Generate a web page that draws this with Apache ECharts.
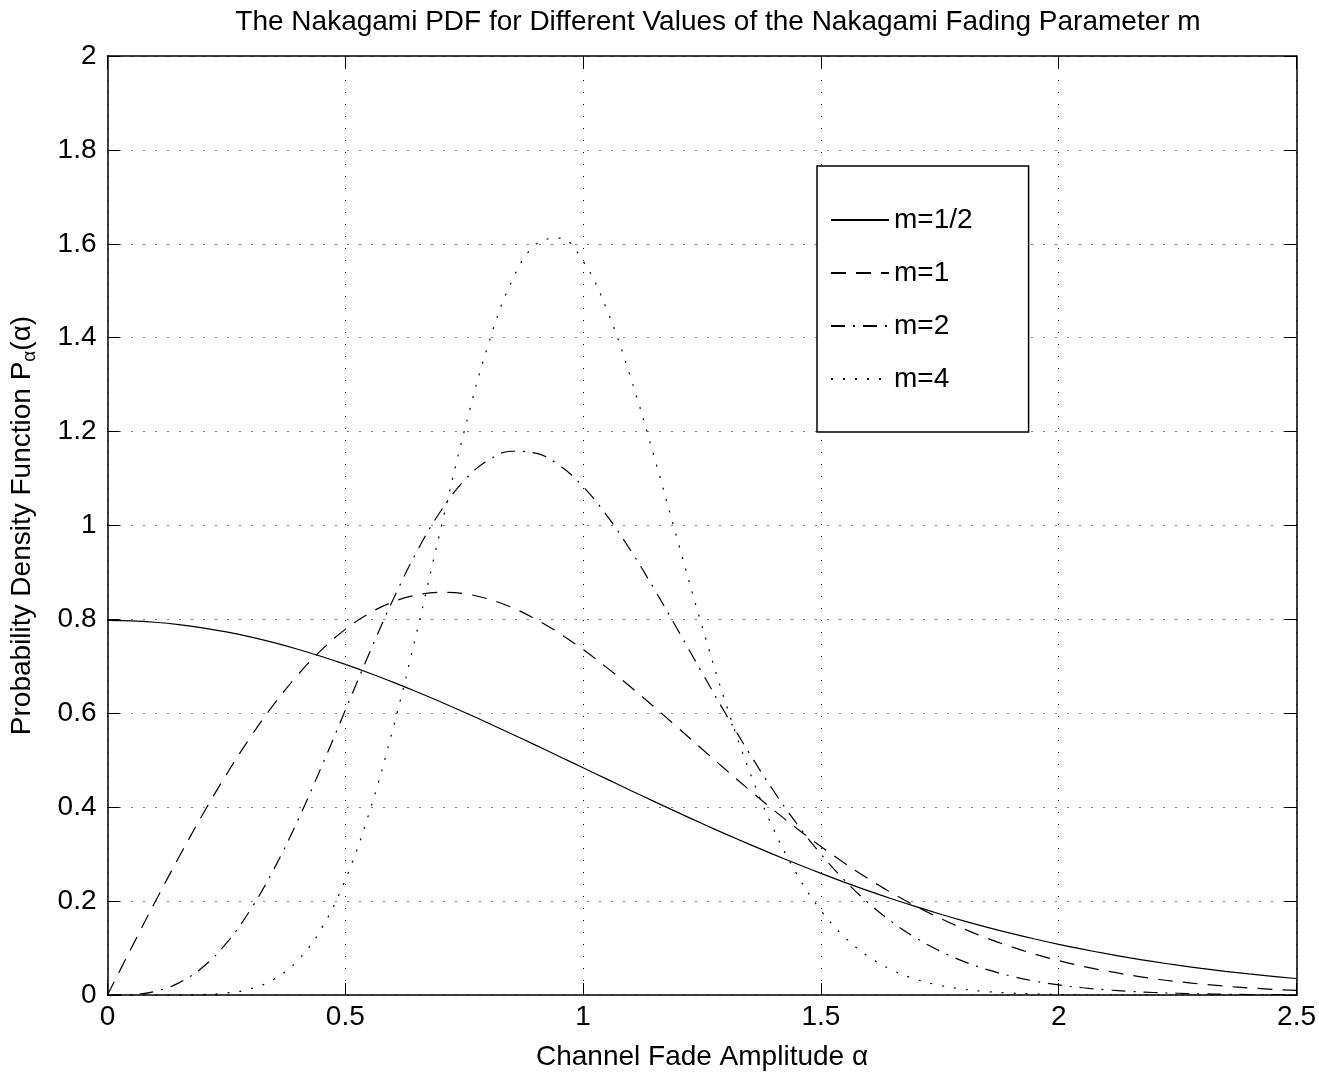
<!DOCTYPE html>
<html><head><meta charset="utf-8">
<script src="https://cdn.jsdelivr.net/npm/echarts@6/dist/echarts.min.js"></script>
<style>html,body{margin:0;padding:0;background:#fff}#c{width:1319px;height:1078px}</style>
</head><body><div id="c"></div>
<script>
// x positions (channel fade amplitude alpha)
const xs = [0,0.05,0.1,0.15,0.2,0.25,0.3,0.35,0.4,0.45,0.5,0.55,0.6,0.65,0.7,0.75,0.8,0.85,0.9,0.95,1,
  1.05,1.1,1.15,1.2,1.25,1.3,1.35,1.4,1.45,1.5,1.55,1.6,1.65,1.7,1.75,1.8,1.85,1.9,1.95,2,
  2.05,2.1,2.15,2.2,2.25,2.3,2.35,2.4,2.45,2.5];
// PDF values
const m05 = [0.7979,0.7969,0.7939,0.7890,0.7821,0.7733,0.7628,0.7505,0.7365,0.7210,0.7041,
  0.6859,0.6664,0.6459,0.6245,0.6023,0.5794,0.5560,0.5322,0.5081,0.4839,
  0.4598,0.4357,0.4119,0.3884,0.3653,0.3427,0.3208,0.2995,0.2789,0.2590,
  0.2400,0.2218,0.2045,0.1881,0.1726,0.1579,0.1441,0.1312,0.1192,0.1080,
  0.0976,0.0880,0.0791,0.0709,0.0635,0.0566,0.0504,0.0448,0.0397,0.0351];
const m1 = [0,0.0998,0.1980,0.2933,0.3843,0.4697,0.5484,0.6193,0.6817,0.7350,0.7788,
  0.8129,0.8372,0.8520,0.8577,0.8547,0.8437,0.8254,0.8007,0.7705,0.7358,
  0.6973,0.6560,0.6129,0.5686,0.5240,0.4797,0.4364,0.3944,0.3542,0.3162,
  0.2805,0.2474,0.2168,0.1890,0.1637,0.1410,0.1207,0.1028,0.0870,0.0733,
  0.0613,0.0511,0.0423,0.0348,0.0285,0.0232,0.0188,0.0151,0.0121,0.0097];
const m2 = [0,0.0010,0.0078,0.0258,0.0591,0.1103,0.1804,0.2685,0.3718,0.4862,0.6065,
  0.7268,0.8411,0.9437,1.0298,1.0957,1.1388,1.1582,1.1541,1.1281,1.0827,
  1.0210,0.9468,0.8639,0.7759,0.6866,0.5985,0.5141,0.4355,0.3639,0.3000,
  0.2440,0.1958,0.1552,0.1214,0.0938,0.0716,0.0539,0.0402,0.0295,0.0214,
  0.0154,0.0110,0.0077,0.0053,0.0037,0.0025,0.0017,0.0011,0.0007,0.0005];
const m4 = [0,0,0,0.0001,0.0009,0.0041,0.0130,0.0336,0.0737,0.1419,0.2453,
  0.3874,0.5660,0.7719,0.9899,1.2005,1.3835,1.5205,1.5983,1.6120,1.5630,
  1.4595,1.3149,1.1442,0.9633,0.7856,0.6208,0.4758,0.3541,0.2560,0.1800,
  0.1230,0.0818,0.0530,0.0334,0.0205,0.0123,0.0072,0.0041,0.0023,0.0012,
  0.0006,0.0003,0.0002,0.0001,0,0,0,0,0,0];
const seriesNames = ['m=1/2','m=1','m=2','m=4'];
const seriesValues = [m05, m1, m2, m4];
const titleText = 'The Nakagami PDF for Different Values of the Nakagami Fading Parameter m';
const xName = 'Channel Fade Amplitude \u03b1';
const yName = 'Probability Density Function P{s|\u03b1}(\u03b1)';

const FONT = '"Liberation Sans", Arial, Helvetica, sans-serif';
const dashes = ['solid', [15, 10], [14, 8, 2, 8], [2, 10]];
const pairs = ys => xs.map((x, i) => [x, ys[i]]);

const axisLineStyle = {color: '#000', width: 1.5};
const tick = {show: true, inside: true, length: 12, lineStyle: {color: '#000', width: 1}};
const grid = {show: true, lineStyle: {color: '#000', width: 1, type: [1, 11]}};

const chart = echarts.init(document.getElementById('c'));
chart.setOption({
  animation: false,
  backgroundColor: '#fff',
  title: {
    text: titleText, left: 713, top: 3, textAlign: 'center',
    textStyle: {fontFamily: FONT, fontSize: 28, fontWeight: 'normal', color: '#000'}
  },
  grid: {left: 106, right: 22, top: 56, bottom: 83},
  legend: {
    orient: 'vertical', left: 817, top: 166,
    padding: [40, 56, 39, 13],
    itemWidth: 58, itemHeight: 30, itemGap: 25,
    backgroundColor: '#fff', borderColor: '#000', borderWidth: 1.5, borderRadius: 0,
    selectedMode: false,
    itemStyle: {opacity: 0},
    textStyle: {fontFamily: FONT, fontSize: 28, color: '#000'},
    data: seriesNames
  },
  xAxis: [{
    type: 'value', min: 0, max: 2.5, interval: 0.5, position: 'bottom',
    name: xName, nameLocation: 'middle', nameGap: 48,
    nameTextStyle: {fontFamily: FONT, fontSize: 28, color: '#000'},
    axisLine: {show: true, onZero: false, lineStyle: axisLineStyle},
    axisTick: tick,
    axisLabel: {margin: 8, fontFamily: FONT, fontSize: 28, color: '#000'},
    splitLine: grid
  }, {
    type: 'value', min: 0, max: 2.5, interval: 0.5, position: 'top',
    axisLine: {show: true, onZero: false, lineStyle: axisLineStyle},
    axisTick: tick, axisLabel: {show: false}, splitLine: {show: false}
  }],
  yAxis: [{
    type: 'value', min: 0, max: 2, interval: 0.2, position: 'left',
    name: yName, nameLocation: 'middle', nameGap: 68,
    nameTextStyle: {fontFamily: FONT, fontSize: 28, color: '#000',
      rich: {s: {fontFamily: FONT, fontSize: 19, color: '#000', padding: [16, 0, 0, 0]}}},
    axisLine: {show: true, onZero: false, lineStyle: axisLineStyle},
    axisTick: tick,
    axisLabel: {margin: 11, fontFamily: FONT, fontSize: 28, color: '#000'},
    splitLine: grid
  }, {
    type: 'value', min: 0, max: 2, interval: 0.2, position: 'right',
    axisLine: {show: true, onZero: false, lineStyle: axisLineStyle},
    axisTick: tick, axisLabel: {show: false}, splitLine: {show: false}
  }],
  series: seriesNames.map((n, i) => ({
    name: n, type: 'line', xAxisIndex: 0, yAxisIndex: 0,
    data: pairs(seriesValues[i]),
    showSymbol: false, symbol: 'none', smooth: 0.4,
    itemStyle: {color: '#000'},
    lineStyle: {color: '#000', width: 1.2, type: dashes[i]}
  }))
});
</script>
</body></html>
